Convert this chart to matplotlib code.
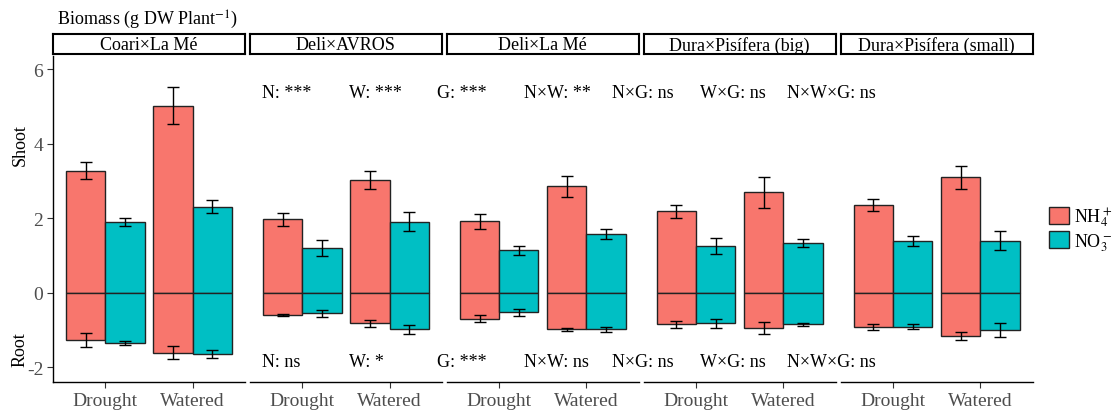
import numpy as np
import matplotlib.pyplot as plt
from matplotlib.patches import Patch

plt.rcParams['font.family'] = ['Liberation Serif', 'DejaVu Serif']
plt.rcParams['mathtext.fontset'] = 'stix'

# data
genotypes = ['Coari×La Mé', 'Deli×AVROS', 'Deli×La Mé',
             'Dura×Pisífera (big)', 'Dura×Pisífera (small)']
conditions = ['Drought', 'Watered']

shoot_nh4 = [[3.28, 5.02], [1.97, 3.02], [1.92, 2.86], [2.19, 2.70], [2.36, 3.10]]
shoot_nh4_err = [[0.22, 0.50], [0.17, 0.24], [0.21, 0.28], [0.18, 0.41], [0.17, 0.30]]
shoot_no3 = [[1.90, 2.31], [1.21, 1.91], [1.14, 1.58], [1.26, 1.34], [1.39, 1.40]]
shoot_no3_err = [[0.11, 0.17], [0.21, 0.26], [0.12, 0.13], [0.21, 0.11], [0.13, 0.26]]
root_nh4 = [[-1.26, -1.60], [-0.59, -0.82], [-0.69, -0.98], [-0.84, -0.94], [-0.91, -1.15]]
root_nh4_err = [[0.18, 0.17], [0.03, 0.10], [0.10, 0.05], [0.10, 0.16], [0.08, 0.11]]
root_no3 = [[-1.34, -1.63], [-0.55, -0.98], [-0.52, -0.98], [-0.82, -0.84], [-0.91, -1.00]]
root_no3_err = [[0.05, 0.11], [0.09, 0.12], [0.10, 0.07], [0.13, 0.04], [0.07, 0.18]]

shoot_stats = ['N: ***', 'W: ***', 'G: ***', 'N×W: **', 'N×G: ns', 'W×G: ns', 'N×W×G: ns']
root_stats = ['N: ns', 'W: *', 'G: ***', 'N×W: ns', 'N×G: ns', 'W×G: ns', 'N×W×G: ns']

col_nh4 = '#F8766D'
col_no3 = '#00BFC4'
gray = '#4D4D4D'
fs = 13
tfs = 14

W, H = 1118, 414
fig = plt.figure(figsize=(W / 100, H / 100), dpi=100)


def px(x, y, w, h):
    # pixel box (top-left origin) -> figure fraction
    return [x / W, 1 - (y + h) / H, w / W, h / H]


x = np.arange(1, len(conditions) + 1)
bw = 0.45
ekw = dict(fmt='none', ecolor='black', elinewidth=1, capsize=4.5, capthick=1)
bkw = dict(width=bw, edgecolor='#222222', linewidth=1)

for i, g in enumerate(genotypes):
    left = 53 + i * 196.9
    ax = fig.add_axes(px(left, 56.5, 192, 326.5))
    ax.bar(x - bw / 2, shoot_nh4[i], color=col_nh4, **bkw)
    ax.bar(x + bw / 2, shoot_no3[i], color=col_no3, **bkw)
    ax.bar(x - bw / 2, root_nh4[i], color=col_nh4, **bkw)
    ax.bar(x + bw / 2, root_no3[i], color=col_no3, **bkw)
    ax.errorbar(x - bw / 2, shoot_nh4[i], yerr=shoot_nh4_err[i], **ekw)
    ax.errorbar(x + bw / 2, shoot_no3[i], yerr=shoot_no3_err[i], **ekw)
    ax.errorbar(x - bw / 2, root_nh4[i], yerr=root_nh4_err[i], **ekw)
    ax.errorbar(x + bw / 2, root_no3[i], yerr=root_no3_err[i], **ekw)

    ax.set_xlim(0.4, 2.6)
    ax.set_ylim(-2.39, 6.37)
    ax.set_xticks(x)
    ax.set_xticklabels(conditions, fontsize=tfs, color=gray)
    ax.tick_params(axis='x', length=4, width=0.8, color='#333333', pad=3)
    for s in ['top', 'right']:
        ax.spines[s].set_visible(False)
    ax.spines['bottom'].set_linewidth(1)
    if i == 0:
        ax.set_yticks([-2, 0, 2, 4, 6])
        ax.set_yticklabels(['-2', '0', '2', '4', '6'], fontsize=tfs, color=gray)
        ax.tick_params(axis='y', length=4, width=0.8, color='#333333', pad=3)
        ax.spines['left'].set_linewidth(1)
    else:
        ax.spines['left'].set_visible(False)
        ax.set_yticks([])

    # facet strip
    sax = fig.add_axes(px(left, 34.5, 192, 20.5))
    sax.set_xticks([])
    sax.set_yticks([])
    for s in sax.spines.values():
        s.set_linewidth(1.5)
    sax.text(0.5, 0.45, g, ha='center', va='center', fontsize=fs, transform=sax.transAxes)

# significance text
for k, (t1, t2) in enumerate(zip(shoot_stats, root_stats)):
    xx = (261.7 + k * 87.6) / W
    fig.text(xx, 1 - 93 / H, t1, ha='left', va='center', fontsize=fs)
    fig.text(xx, 1 - 363 / H, t2, ha='left', va='center', fontsize=fs)

fig.text(57 / W, 1 - 20 / H, r'Biomass (g DW Plant$^{-1}$)', ha='left', va='center', fontsize=fs)
fig.text(20 / W, 1 - 145 / H, 'Shoot', rotation=90, ha='center', va='center', fontsize=fs)
fig.text(20 / W, 1 - 350 / H, 'Root', rotation=90, ha='center', va='center', fontsize=fs)

handles = [Patch(facecolor=col_nh4, edgecolor='#222222'),
           Patch(facecolor=col_no3, edgecolor='#222222')]
fig.legend(handles, [r'NH$_4^+$', r'NO$_3^-$'], loc='center left',
           bbox_to_anchor=(1049 / W, 1 - 230 / H), frameon=False, fontsize=fs,
           handlelength=1.1, handleheight=1.1, handletextpad=0.3,
           labelspacing=0.1, borderpad=0, borderaxespad=0)

fig.savefig('out.png', dpi=100)
